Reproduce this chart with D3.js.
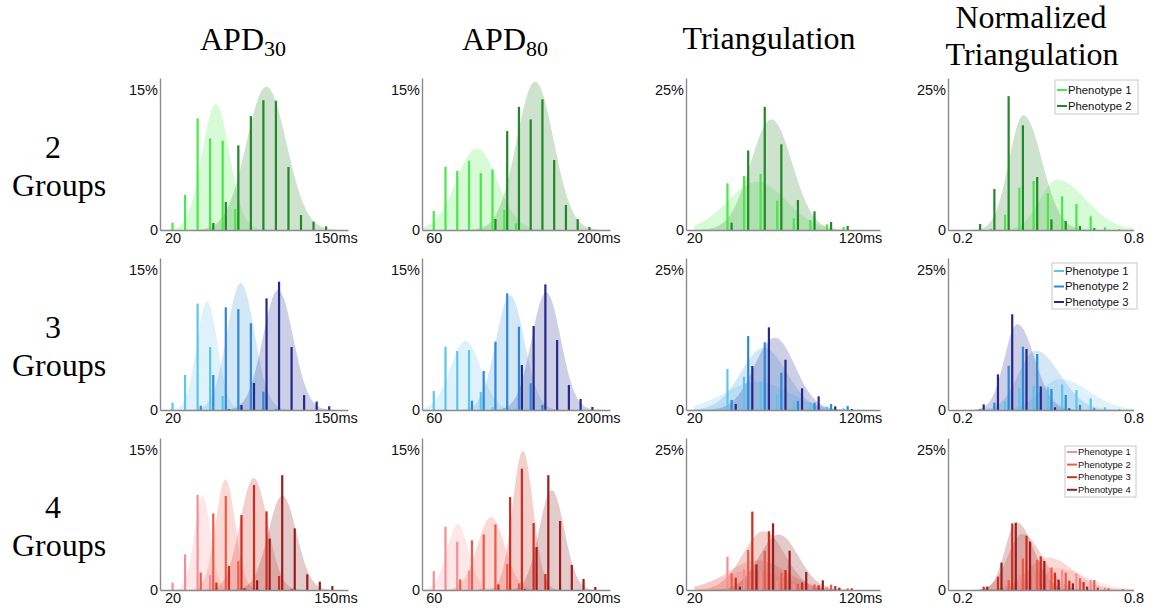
<!DOCTYPE html>
<html><head><meta charset="utf-8">
<script src="https://cdn.jsdelivr.net/npm/d3@7"></script>
<style>body{margin:0;background:#fff}svg{display:block}</style>
</head><body>
<svg id="c" width="1156" height="608"></svg>
<script>
// ---------------- DATA ----------------
const columnTitles = [["APD","30"],["APD","80"],["Triangulation",""],["Normalized","Triangulation"]];
const rowTitles = [["2","Groups"],["3","Groups"],["4","Groups"]];
const colTicks = [[20,150],[60,200],[20,120],[0.2,0.8]];
const colTickLabels = [["20","150ms"],["60","200ms"],["20","120ms"],["0.2","0.8"]];
const colBinWidth = [10,10,10,0.05];
const colYMax = [15,15,25,25];
const legendLabels = ["Phenotype 1","Phenotype 2","Phenotype 3","Phenotype 4"];

// bars: per group [first bin value, percentages...]
const bars_2g_apd30 = [[20,[0.79,3.75,11.96,9.82,9.57,2.25]],[50,[0.75,3.0,9.07,12.2,13.9,13.85,6.75,1.6,0.9,0.4]]];
const bars_2g_apd80 = [[60,[2.03,6.78,6.32,7.43,6.1,6.5,2.14,0.71]],[110,[1.18,10.6,13.2,11.85,14.0,7.5,2.68,1.18,0.32]]];
const bars_2g_tri = [[40,[8.33,9.64,10.0,5.24,2.08,1.79,1.0,0.54]],[40,[1.31,14.2,22.0,15.3,5.36,3.33,1.43,0.71]]];
const bars_2g_ntri = [[0.30,[0.18,2.74,7.56,8.75,6.55,6.0,4.64,2.44,0.48,0.18]],[0.25,[1.07,7.3,23.9,18.7,9.46,1.9,1.6,0.71,0.36]]];

const bars_3g_apd30 = [[20,[0.79,3.75,11.4,6.75,1.5]],[40,[0.46,3.75,11.0,10.8,9.3,1.96,0.1]],[60,[0.1,0.54,2.9,11.96,13.75,6.75,1.6,0.9,0.4]]];
const bars_3g_apd80 = [[60,[2.03,6.78,6.32,6.43,1.93,0.29,0.18,0.18]],[90,[1.0,4.18,7.32,12.5,8.93,2.86,0.54]],[130,[4.82,9.0,13.46,7.5,2.68,1.18,0.32]]];
const bars_3g_tri = [[40,[7.32,5.95,5.06,2.86,1.49,1.37,0.6,0.3]],[40,[1.79,13.2,12.1,6.66,1.6,1.3,1.07,0.71]],[40,[1.07,7.85,14.76,8.98,3.87,2.44,0.65,0.18]]];
const bars_3g_ntri = [[0.35,[1.6,3.87,4.28,4.05,4.58,3.57,2.08,0.48,0.18]],[0.25,[0.18,1.3,7.9,11.3,10.0,3.75,2.68,0.9,0.3]],[0.25,[1.0,6.37,17.1,10.9,4.2,0.48,0.3]]];

const bars_4g_apd30 = [[20,[0.79,3.82,10.2,1.6]],[40,[1.86,8.2,10.07,3.1]],[50,[0.79,2.57,8.03,11.25,8.43,1.5,0.1]],[70,[0.18,1.04,5.5,12.3,6.6,1.68,0.89,0.43]]];
const bars_4g_apd80 = [[60,[2.03,6.78,5.18,2.07,0.1]],[80,[1.14,5.32,5.96,7.03,2.78,0.71]],[110,[0.6,9.96,13.0,7.18,1.71]],[130,[0.1,4.6,12.3,7.4,2.68,1.18,0.32]]];
const bars_4g_tri = [[40,[5.95,3.75,3.4,1.67,1.07,0.71,0.6]],[40,[2.98,7.14,7.02,3.1,1.07,1.0,0.95,0.3]],[40,[2.2,14.0,10.5,3.57,1.37,0.83,0.71,0.3]],[40,[0.6,4.58,11.9,7.02,3.21,1.73,0.42]]];
const bars_4g_ntri = [[0.35,[1.79,2.68,2.68,3.15,3.57,2.98,1.79,0.42]],[0.35,[1.79,5.65,5.36,4.0,3.1,2.08,1.79,0.3,0.18]],[0.25,[0.6,2.38,11.9,9.7,6.0,3.1,1.67,1.43,0.42]],[0.25,[0.6,4.88,12.0,8.63,5.18,1.84,1.19,0.6]]];

// fitted density curves per group: [mode, sd left, sd right, peak %]
const fit_2g_apd30 = [[54.5,11,11,13.46],[94.9,16,16,15.36]];
const fit_2g_apd80 = [[96.6,17.3,17.3,8.75],[146.3,15.7,15.7,15.9]];
const fit_2g_tri = [[57.9,17.6,17.6,8.6],[66.5,12.5,12.5,19.75]];
const fit_2g_ntri = [[0.533,0.06,0.1,9.0],[0.414,0.05,0.065,20.5]];

const fit_3g_apd30 = [[47.6,8.3,8.3,11.6],[74.4,11,11,13.6],[104.2,12.1,12.1,12.85]];
const fit_3g_apd80 = [[87,13,13,7.39],[125,12.1,12.1,12.3],[155.7,12.35,12.35,12.6]];
const fit_3g_tri = [[57.9,19.6,19.6,5.06],[61.9,13.8,13.8,11.1],[68.5,12.3,12.3,12.9]];
const fit_3g_ntri = [[0.544,0.07,0.1,5.53],[0.457,0.06,0.085,10.6],[0.393,0.045,0.06,15.35]];

const fit_4g_apd30 = [[43.9,6.5,6.5,10.07],[62.2,7.8,7.8,11.85],[84.8,10.9,10.9,12.0],[107.6,11.3,11.3,10.1]];
const fit_4g_apd80 = [[80.4,9.2,9.2,7.03],[108.8,11.7,11.7,7.8],[135.8,8.7,8.7,14.9],[160.4,10.7,10.7,10.7]];
const fit_4g_tri = [[55,19.6,19.6,3.5],[58,17.8,17.8,5.3],[61.9,12.7,12.7,10.5],[71,11.9,11.9,9.9]];
const fit_4g_ntri = [[0.52,0.08,0.11,4.0],[0.50,0.07,0.09,5.8],[0.41,0.05,0.07,10.0],[0.39,0.04,0.06,12.1]];

const panelBars = [
  [bars_2g_apd30,bars_2g_apd80,bars_2g_tri,bars_2g_ntri],
  [bars_3g_apd30,bars_3g_apd80,bars_3g_tri,bars_3g_ntri],
  [bars_4g_apd30,bars_4g_apd80,bars_4g_tri,bars_4g_ntri]];
const panelFits = [
  [fit_2g_apd30,fit_2g_apd80,fit_2g_tri,fit_2g_ntri],
  [fit_3g_apd30,fit_3g_apd80,fit_3g_tri,fit_3g_ntri],
  [fit_4g_apd30,fit_4g_apd80,fit_4g_tri,fit_4g_ntri]];

// ---------------- STYLE / LAYOUT ----------------
const barColors = [
  ["#48e848","#22882a"],
  ["#5cc6ea","#2e88dc","#232a8a"],
  ["#f58d96","#ee5a48","#d22b20","#9a1e1e"]];
const fillColors = [
  ["#5ef05e","#3a8f3a"],
  ["#7fcbef","#4f9ee0","#39409a"],
  ["#f7a0a8","#ef6a5a","#d34236","#8e3030"]];
const colDomains = [[10,160],[50,210],[15,132],[0.15,0.8]];
const colRanges = [[160,348],[422,610],[686,880],[948,1133.5]];
const colCurveSpan = [[10,160],[50,210],[20,132],[0.15,0.8]];
const rowZero = [230,410,590];
const legendBoxes = [
  {x:1055,y:80,w:83,h:34,y0:90,dy:16,fs:11.3},
  {x:1052,y:263,w:85,h:46,y0:271,dy:15.5,fs:11.3},
  {x:1065,y:446,w:71,h:51,y0:452,dy:12.6,fs:9.4}];

const svg = d3.select("#c");
const serif = "'Liberation Serif','Times New Roman',serif";
const sans = "'Liberation Sans',Arial,sans-serif";

// column titles
const titleX = [243,505,769,1026];
columnTitles.forEach((t,c)=>{
  if(c<2){
    const tx = svg.append("text").attr("x",titleX[c]).attr("y",50).attr("text-anchor","middle")
      .attr("font-family",serif).attr("font-size",32).text(t[0]);
    tx.append("tspan").attr("font-size",22).attr("dy",6).text(t[1]);
  } else if(c===2){
    svg.append("text").attr("x",titleX[c]).attr("y",49).attr("text-anchor","middle")
      .attr("font-family",serif).attr("font-size",32).text(t[0]);
  } else {
    svg.append("text").attr("x",titleX[c]+5).attr("y",28).attr("text-anchor","middle")
      .attr("font-family",serif).attr("font-size",32).text(t[0]);
    svg.append("text").attr("x",titleX[c]+6).attr("y",65).attr("text-anchor","middle")
      .attr("font-family",serif).attr("font-size",32).text(t[1]);
  }
});
// row titles
rowTitles.forEach((t,r)=>{
  const z = rowZero[r];
  svg.append("text").attr("x",53).attr("y",z-72).attr("text-anchor","middle")
    .attr("font-family",serif).attr("font-size",32).text(t[0]);
  svg.append("text").attr("x",59).attr("y",z-34).attr("text-anchor","middle")
    .attr("font-family",serif).attr("font-size",32).text(t[1]);
});

// panels
for(let r=0;r<3;r++){
  for(let c=0;c<4;c++){
    const zero = rowZero[r];
    const x = d3.scaleLinear().domain(colDomains[c]).range(colRanges[c]);
    const y = d3.scaleLinear().domain([0,colYMax[c]*152/140]).range([zero,zero-152]);
    const bw = colBinWidth[c];
    const g = svg.append("g");
    const fits = panelFits[r][c];
    const span = colCurveSpan[c];
    const step = (span[1]-span[0])/240;
    const xs = d3.range(span[0],span[1]+step/2,step);
    const area = d3.area().x(d=>x(d[0])).y0(zero).y1(d=>y(d[1])).curve(d3.curveLinear);
    fits.forEach((f,gi)=>{
      const pts = xs.map(v=>{
        const s = v<f[0]?f[1]:f[2];
        const zz=(v-f[0])/s;
        return [v,f[3]*Math.exp(-0.5*zz*zz)];
      });
      g.append("path").attr("d",area(pts)).attr("fill",fillColors[r][gi]).attr("fill-opacity",0.25);
    });
    panelBars[r][c].forEach((grp,gi)=>{
      const start = grp[0];
      const vals = grp[1].map((h,i)=>({v:start+i*bw,h:h}));
      g.selectAll(null).data(vals).enter().append("rect")
        .attr("x",d=>x(d.v+gi*bw/4)-1.1).attr("width",2.2)
        .attr("y",d=>y(d.h)).attr("height",d=>zero-y(d.h))
        .attr("fill",barColors[r][gi]);
    });
    // axes
    const xa = g.append("g").attr("transform",`translate(0,${zero})`)
      .call(d3.axisBottom(x).tickValues(colTicks[c]).tickFormat((d,i)=>colTickLabels[c][i]).tickSize(0).tickSizeOuter(0).tickPadding(3));
    const ya = g.append("g").attr("transform",`translate(${colRanges[c][0]},0)`)
      .call(d3.axisLeft(y).tickValues([0,colYMax[c]]).tickFormat(d=>d===0?"0":d+"%").tickSize(0).tickSizeOuter(0).tickPadding(2));
    [xa,ya].forEach(a=>{
      a.select(".domain").attr("stroke","#8a8a8a").attr("stroke-width",1.4);
      a.selectAll("text").attr("font-family",sans).attr("font-size",14.5).attr("fill","#111");
    });
    // legend
    if(c===3){
      const L = legendBoxes[r];
      const n = barColors[r].length;
      const lg = svg.append("g");
      lg.append("rect").attr("x",L.x).attr("y",L.y).attr("width",L.w).attr("height",L.h)
        .attr("fill","#fff").attr("stroke","#c8c8c8").attr("stroke-width",1);
      for(let i=0;i<n;i++){
        const yy = L.y0 + i*L.dy;
        lg.append("line").attr("x1",L.x+2).attr("x2",L.x+12).attr("y1",yy).attr("y2",yy)
          .attr("stroke",barColors[r][i]).attr("stroke-width",2);
        lg.append("text").attr("x",L.x+13).attr("y",yy).attr("dy","0.35em")
          .attr("font-family",sans).attr("font-size",L.fs).attr("fill","#111").text(legendLabels[i]);
      }
    }
  }
}
</script>
</body></html>
